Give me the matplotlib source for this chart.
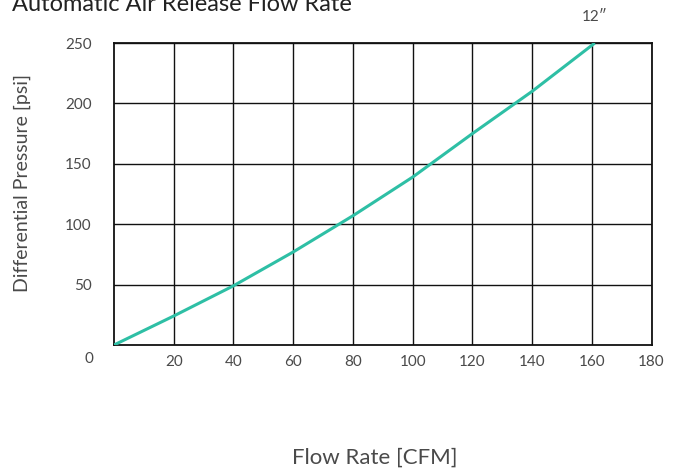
import matplotlib
matplotlib.use("Agg")
import matplotlib.pyplot as plt

flow = [0, 20, 40, 60, 80, 100, 120, 140, 161]
pressure = [0, 24, 49, 77, 107, 139, 175, 210, 250]
xticks = [20, 40, 60, 80, 100, 120, 140, 160, 180]
yticks = [50, 100, 150, 200, 250]
curve_label = "12\u2033"

plt.rcParams['font.family'] = ['Lato', 'DejaVu Sans']
txt = '#4a4a4a'
W, H = 679, 474

fig = plt.figure(figsize=(6.79, 4.74), dpi=100)
ax = fig.add_axes([0.1679, 0.2722, 0.7917, 0.637])
ax.set_xlim(0, 180)
ax.set_ylim(0, 250)

for x in xticks:
    ax.axvline(x, color='#111111', lw=1.0, zorder=1)
for y in yticks:
    ax.axhline(y, color='#111111', lw=1.0, zorder=1)

ax.plot(flow, pressure, color='#2ebfa5', lw=2.2, zorder=3, solid_capstyle='butt')
ax.text(flow[-1], 250 + 16, curve_label, ha='center', va='bottom', fontsize=11,
        color=txt)

for s in ax.spines.values():
    s.set_color('#111111')
    s.set_linewidth(1.3)

ax.set_xticks(xticks)
ax.set_xticklabels([str(v) for v in xticks], fontsize=11, color=txt)
ax.set_yticks(yticks)
ax.set_yticklabels([str(v) for v in yticks], fontsize=11, color=txt)
ax.tick_params(length=0, pad=7)
ax.tick_params(axis='y', pad=16)
ax.text(-0.046, -0.045, "0", transform=ax.transAxes, ha='center', va='center',
        fontsize=11, color=txt)

fig.text(375 / W, 1 - 458 / H, "Flow Rate [CFM]", ha='center', va='center',
         fontsize=16, color=txt)
fig.text(22 / W, 1 - 183 / H, "Differential Pressure [psi]", ha='center', va='center',
         rotation=90, fontsize=14, color=txt)
fig.text(12 / W, 1 - 11 / H, "Automatic Air Release Flow Rate", ha='left', va='baseline',
         fontsize=17, color='#222222')

fig.savefig("out.png", dpi=100)
